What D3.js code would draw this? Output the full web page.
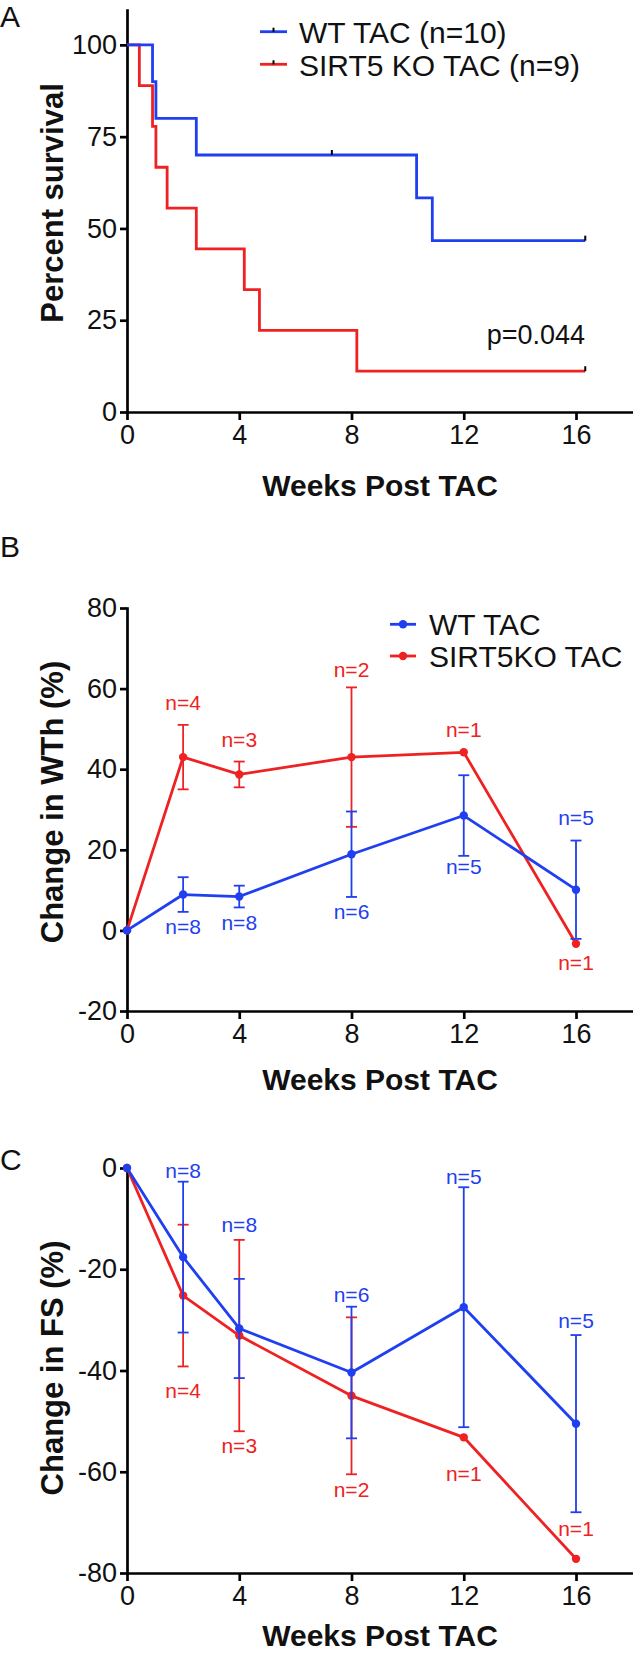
<!DOCTYPE html>
<html>
<head>
<meta charset="utf-8">
<script src="https://cdn.jsdelivr.net/npm/d3@7"></script>
<style>
  html, body { margin: 0; padding: 0; background: #fff; }
  svg { display: block; }
  text { font-family: "Liberation Sans", Arial, Helvetica, sans-serif; }
</style>
</head>
<body>
<svg id="chart" width="633" height="1654"></svg>
<script>
// ---------------- DATA ----------------
// Panel A: Kaplan-Meier survival
const kmWeeksWT = [0, 0.91, 1.03, 2.47, 10.32, 10.88, 16.33];
const kmSurvWT  = [100, 90, 80, 70, 58.33, 46.67, 46.67];
const kmCensorWT = [7.3, 16.33];
const kmWeeksKO = [0, 0.44, 0.91, 1.03, 1.43, 2.47, 4.18, 4.72, 8.19, 16.33];
const kmSurvKO  = [100, 88.89, 77.78, 66.67, 55.56, 44.44, 33.33, 22.22, 11.11, 11.11];
const kmCensorKO = [16.33];
const kmLegend = ["WT TAC (n=10)", "SIRT5 KO TAC (n=9)"];
const pValueText = "p=0.044";

// Panels B and C
const weeks = [0, 2, 4, 8, 12, 16];
const wthWT    = [0, 8.9, 8.4, 18.9, 28.5, 10.1];
const wthWTerr = [0, 4.3, 2.7, 10.6, 10.0, 12.2];
const wthKO    = [0, 43.0, 38.7, 43.0, 44.2, -3.3];
const wthKOerr = [0, 8.0, 3.2, 17.3, 0, 0];
const fsWT     = [0, -17.6, -31.7, -40.4, -27.5, -50.5];
const fsWTerr  = [0, 14.9, 9.8, 13.0, 23.7, 17.5];
const fsKO     = [0, -25.2, -33.1, -45.0, -53.2, -77.2];
const fsKOerr  = [0, 14.0, 18.9, 15.5, 0, 0];
const nWT = [null, 8, 8, 6, 5, 5];
const nKO = [null, 4, 3, 2, 1, 1];
const lineLegend = ["WT TAC", "SIRT5KO TAC"];

// Tick labels
const xTicks = [0, 4, 8, 12, 16];
const yTicksA = [0, 25, 50, 75, 100];
const yTicksB = [-20, 0, 20, 40, 60, 80];
const yTicksC = [-80, -60, -40, -20, 0];

// ---------------- LAYOUT ----------------
// n= label baselines, expressed in axis units
const labWthWT = [null, -0.8, 0, 2.9, 14.1, 26.1];
const labWthKO = [null, 54.6, 45.5, 62.9, 47.9, -9.9];
const labFsWT  = [null, -2.0, -12.7, -26.5, -3.2, -31.7];
const labFsKO  = [null, -45.4, -56.3, -64.9, -61.8, -72.6];

const BLUE = "#1f3ff0";
const RED = "#ee2222";
const AX_W = 2.7;
const svg = d3.select("#chart");

const x0 = 127, x16 = 576, xEnd = 633;
const xDomainEnd = 16 * (xEnd - x0) / (x16 - x0);
const makeX = () => d3.scaleLinear().domain([0, xDomainEnd]).range([x0, xEnd]);
const fmt = d => String(d);

function drawAxes(g, x, y, yTicks) {
  const ya = g.append("g").attr("transform", `translate(${x0},0)`)
    .call(d3.axisLeft(y).tickValues(yTicks).tickFormat(fmt).tickSize(7).tickPadding(3).tickSizeOuter(0));
  const xa = g.append("g").attr("transform", `translate(0,${y.range()[0]})`)
    .call(d3.axisBottom(x).tickValues(xTicks).tickFormat(fmt).tickSize(8).tickPadding(5).tickSizeOuter(0));
  [ya, xa].forEach(a => {
    a.selectAll("path.domain").attr("stroke", "#000").attr("stroke-width", AX_W).attr("stroke-linecap", "square");
    a.selectAll(".tick line").attr("stroke", "#000").attr("stroke-width", AX_W);
    a.selectAll(".tick text").attr("fill", "#111").attr("font-size", 27)
      .attr("font-family", '"Liberation Sans", Arial, sans-serif');
  });
}

function axisTitles(g, xTitleY, yTitleCy, yTitle, letter, letterY) {
  g.append("text").attr("x", (x0 + xEnd) / 2).attr("y", xTitleY)
    .attr("text-anchor", "middle").attr("font-size", 30).attr("font-weight", "bold")
    .attr("fill", "#111").text("Weeks Post TAC");
  g.append("text").attr("transform", `translate(63,${yTitleCy}) rotate(-90)`)
    .attr("text-anchor", "middle").attr("font-size", 31).attr("font-weight", "bold")
    .attr("fill", "#111").text(yTitle);
  g.append("text").attr("x", 0).attr("y", letterY).attr("font-size", 30)
    .attr("fill", "#111").text(letter);
}

// ---------------- PANEL A ----------------
{
  const g = svg.append("g");
  const x = makeX();
  const y = d3.scaleLinear().domain([0, 109.5]).range([412, 10]);
  drawAxes(g, x, y, yTicksA);
  axisTitles(g, 496, 203, "Percent survival", "A", 27);

  const step = d3.line().x(d => x(d[0])).y(d => y(d[1])).curve(d3.curveStepAfter);
  const series = [
    { t: kmWeeksKO, s: kmSurvKO, c: kmCensorKO, color: RED },
    { t: kmWeeksWT, s: kmSurvWT, c: kmCensorWT, color: BLUE }
  ];
  series.forEach(se => {
    const pts = se.t.map((t, i) => [t, se.s[i]]);
    g.append("path").attr("d", step(pts)).attr("fill", "none")
      .attr("stroke", se.color).attr("stroke-width", 2.8);
  });
  series.forEach(se => {
    se.c.forEach(ct => {
      let sv = se.s[0];
      se.t.forEach((t, i) => { if (t <= ct) sv = se.s[i]; });
      g.append("line").attr("x1", x(ct)).attr("x2", x(ct))
        .attr("y1", y(sv) - 5).attr("y2", y(sv))
        .attr("stroke", "#000").attr("stroke-width", 2);
    });
  });

  // legend
  const legY = [31.7, 64.3];
  [BLUE, RED].forEach((col, i) => {
    g.append("line").attr("x1", 260).attr("x2", 287).attr("y1", legY[i]).attr("y2", legY[i])
      .attr("stroke", col).attr("stroke-width", 2.8);
    g.append("line").attr("x1", 273.5).attr("x2", 273.5).attr("y1", legY[i] - 4).attr("y2", legY[i])
      .attr("stroke", "#000").attr("stroke-width", 2);
    g.append("text").attr("x", 299).attr("y", legY[i] + 11.5).attr("font-size", 30)
      .attr("fill", "#111").text(kmLegend[i]);
  });
  g.append("text").attr("x", 585).attr("y", 344).attr("text-anchor", "end")
    .attr("font-size", 27).attr("fill", "#111").text(pValueText);
}

// ---------------- line/error panels ----------------
function linePanel(opts) {
  const g = svg.append("g");
  const x = makeX();
  const y = d3.scaleLinear().domain(opts.domain).range(opts.range);
  drawAxes(g, x, y, opts.yTicks);
  axisTitles(g, opts.xTitleY, opts.yTitleCy, opts.yTitle, opts.letter, opts.letterY);

  const line = d3.line().x(d => x(d[0])).y(d => y(d[1]));
  const series = [
    { v: opts.ko, e: opts.koErr, n: nKO, lab: opts.labKO, color: RED },
    { v: opts.wt, e: opts.wtErr, n: nWT, lab: opts.labWT, color: BLUE }
  ];
  series.forEach(se => {
    const sg = g.append("g");
    weeks.forEach((w, i) => {
      if (!se.e[i]) return;
      const xc = x(w), yt = y(se.v[i] + se.e[i]), yb = y(se.v[i] - se.e[i]);
      sg.append("line").attr("x1", xc).attr("x2", xc).attr("y1", yt).attr("y2", yb)
        .attr("stroke", se.color).attr("stroke-width", 1.8);
      [yt, yb].forEach(yy => sg.append("line").attr("x1", xc - 5.5).attr("x2", xc + 5.5)
        .attr("y1", yy).attr("y2", yy).attr("stroke", se.color).attr("stroke-width", 1.8));
    });
    sg.append("path").attr("d", line(weeks.map((w, i) => [w, se.v[i]])))
      .attr("fill", "none").attr("stroke", se.color).attr("stroke-width", 2.8)
      .attr("stroke-linejoin", "round");
    sg.selectAll("circle").data(weeks).join("circle")
      .attr("cx", d => x(d)).attr("cy", (d, i) => y(se.v[i])).attr("r", 4.2)
      .attr("fill", se.color);
    weeks.forEach((w, i) => {
      if (se.n[i] == null) return;
      sg.append("text").attr("x", x(w)).attr("y", y(se.lab[i]))
        .attr("text-anchor", "middle").attr("font-size", 21).attr("fill", se.color)
        .text("n=" + se.n[i]);
    });
  });
  if (opts.legend) {
    const ly = [624.3, 656];
    [BLUE, RED].forEach((col, i) => {
      g.append("line").attr("x1", 390).attr("x2", 416).attr("y1", ly[i]).attr("y2", ly[i])
        .attr("stroke", col).attr("stroke-width", 2.8);
      g.append("circle").attr("cx", 403).attr("cy", ly[i]).attr("r", 4.2).attr("fill", col);
      g.append("text").attr("x", 429).attr("y", ly[i] + 10.5).attr("font-size", 30)
        .attr("fill", "#111").text(lineLegend[i]);
    });
  }
}

linePanel({
  domain: [-20, 80], range: [1011, 608], yTicks: yTicksB,
  wt: wthWT, wtErr: wthWTerr, ko: wthKO, koErr: wthKOerr,
  labWT: labWthWT, labKO: labWthKO,
  xTitleY: 1090, yTitleCy: 802, yTitle: "Change in WTh (%)", letter: "B", letterY: 557,
  legend: true
});

linePanel({
  domain: [-80, 0], range: [1573, 1168], yTicks: yTicksC,
  wt: fsWT, wtErr: fsWTerr, ko: fsKO, koErr: fsKOerr,
  labWT: labFsWT, labKO: labFsKO,
  xTitleY: 1646, yTitleCy: 1368, yTitle: "Change in FS (%)", letter: "C", letterY: 1170,
  legend: false
});
</script>
</body>
</html>
